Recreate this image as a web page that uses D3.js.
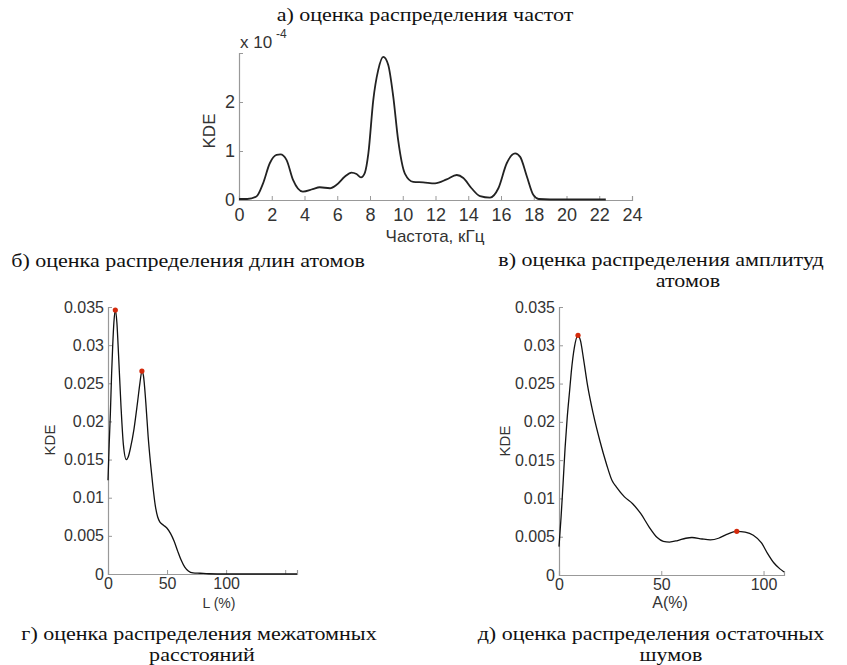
<!DOCTYPE html>
<html>
<head>
<meta charset="utf-8">
<script src="https://cdn.jsdelivr.net/npm/d3@7"></script>
<style>
  body { margin: 0; background: #fff; }
  svg { display: block; }
  .cap { font-family: "Liberation Serif", "Times New Roman", serif; font-size: 20px; fill: #111; }
  .tick text { font-family: "Liberation Sans", Arial, sans-serif; fill: #333; }
  .lbl { font-family: "Liberation Sans", Arial, sans-serif; fill: #333; }
</style>
</head>
<body>
<div class="d3-container"></div>
<script>
// а) частоты, KDE in units of 1e-4
const freqX = [0, 0.5, 1.06, 1.47, 1.88, 2.29, 2.53, 2.9, 3.3, 3.9, 4.5, 4.93, 5.55, 5.96, 6.47, 6.87, 7.18, 7.45, 7.69, 7.9, 8.2, 8.5, 8.81, 9.11, 9.42, 9.72, 10.13, 10.64, 11.25, 11.97, 12.68, 13.3, 13.7, 14.2, 14.72, 15.33, 15.84, 16.35, 16.86, 17.17, 17.58, 17.98, 18.3, 19, 20, 21, 22.4];
const freqKde = [0.02, 0.02, 0.07, 0.34, 0.75, 0.92, 0.93, 0.82, 0.41, 0.17, 0.22, 0.26, 0.24, 0.31, 0.48, 0.56, 0.53, 0.46, 0.56, 0.95, 2.04, 2.65, 2.92, 2.76, 2.11, 1.22, 0.54, 0.37, 0.36, 0.34, 0.42, 0.51, 0.45, 0.24, 0.08, 0.05, 0.24, 0.75, 0.95, 0.88, 0.48, 0.1, 0.02, 0.01, 0.01, 0.01, 0.01];
const freqTicks = [0, 2, 4, 6, 8, 10, 12, 14, 16, 18, 20, 22, 24];

// б) длины атомов
const lenX = [0, 1, 2, 3, 4, 5, 6.2, 7.5, 9, 11, 13, 15.5, 17, 19, 22, 25, 27, 28.7, 30, 32, 34, 36, 38, 40, 42, 44, 47, 50, 53, 56, 59, 62, 65, 68, 72, 78, 85, 100, 160];
const lenKde = [0.0123, 0.017, 0.021, 0.026, 0.030, 0.033, 0.0346, 0.033, 0.0285, 0.022, 0.017, 0.015, 0.0153, 0.0165, 0.019, 0.0225, 0.025, 0.0266, 0.026, 0.0225, 0.018, 0.0145, 0.0115, 0.009, 0.0075, 0.0068, 0.0064, 0.006, 0.0053, 0.0043, 0.003, 0.0018, 0.0009, 0.0004, 0.00015, 0.0001, 0.00003, 0, 0];
const lenPeaks = [[6.2, 0.0346], [28.7, 0.0266]];
const lenTicks = [0, 50, 100, 150];

// в) амплитуды атомов
const ampX = [0, 1, 2, 3, 4, 5.2, 6, 7.5, 9.3, 10.5, 12, 14, 16.7, 20, 23.2, 26, 28, 32, 36, 40, 44, 48, 51, 54, 58, 62, 65, 70, 74, 78, 82, 86.9, 91, 95, 99, 102, 105, 108, 110];
const ampKde = [0.0037, 0.0075, 0.012, 0.0167, 0.0205, 0.0241, 0.0265, 0.0297, 0.0313, 0.0306, 0.0282, 0.0247, 0.0211, 0.0175, 0.0145, 0.0123, 0.0115, 0.0102, 0.0093, 0.008, 0.0063, 0.0049, 0.0044, 0.0043, 0.0045, 0.0048, 0.0049, 0.0047, 0.0046, 0.0048, 0.0053, 0.0057, 0.0056, 0.0052, 0.0042, 0.0028, 0.0016, 0.0008, 0.0004];
const ampPeaks = [[9.3, 0.0313], [86.9, 0.0057]];
const ampTicks = [0, 50, 100];

const kdeTicks = [0, 0.005, 0.01, 0.015, 0.02, 0.025, 0.03, 0.035];

const width = 847;
const height = 665;

const svg = d3.select(".d3-container")
  .append("svg")
  .attr("width", width)
  .attr("height", height);

function panel(o) {
  const x = d3.scaleLinear().domain(o.xDomain).range(o.xRange);
  const y = d3.scaleLinear().domain(o.yDomain).range(o.yRange);
  const g = svg.append("g");

  const xa = g.append("g")
    .attr("transform", `translate(0, ${o.yRange[0]})`)
    .call(d3.axisBottom(x).tickValues(o.xTicks).tickSize(-4).tickPadding(o.xPad)
      .tickFormat(d => o.xHide && o.xHide.includes(d) ? "" : d));
  const ya = g.append("g")
    .attr("transform", `translate(${o.xRange[0]}, 0)`)
    .call(d3.axisLeft(y).tickValues(o.yTicks).tickSize(-4).tickPadding(4)
      .tickFormat(o.yFmt));
  [xa, ya].forEach(a => {
    a.select(".domain").attr("stroke", "#999").attr("stroke-width", 1.2);
    a.selectAll(".tick line").attr("stroke", "#999");
    a.selectAll(".tick text").style("font-size", o.fs + "px");
  });

  const pts = o.xs.map((v, i) => [v, o.ys[i]]);
  g.append("path")
    .datum(pts)
    .attr("fill", "none")
    .attr("stroke", o.lineColor)
    .attr("stroke-width", o.lineW)
    .attr("d", d3.line().x(d => x(d[0])).y(d => y(d[1])).curve(d3.curveMonotoneX));

  if (o.peaks) {
    g.selectAll("circle")
      .data(o.peaks)
      .join("circle")
      .attr("cx", d => x(d[0]))
      .attr("cy", d => y(d[1]))
      .attr("r", 2.6)
      .attr("fill", "#d42a0c");
  }
  return {x, y, g};
}

// top chart
const freqPanel = panel({
  xDomain: [0, 24], xRange: [239, 632],
  yDomain: [0, 3], yRange: [200, 53],
  xTicks: freqTicks, yTicks: [0, 1, 2], yFmt: d => d,
  xPad: 8, fs: 18,
  xs: freqX, ys: freqKde, lineColor: "#222", lineW: 1.8
});
freqPanel.g.append("text").attr("class", "lbl")
  .attr("x", 240).attr("y", 48).style("font-size", "17px")
  .text("x 10");
freqPanel.g.append("text").attr("class", "lbl")
  .attr("x", 276).attr("y", 38).style("font-size", "12px")
  .text("-4");
freqPanel.g.append("text").attr("class", "lbl")
  .attr("transform", "translate(215,131) rotate(-90)")
  .attr("text-anchor", "middle").style("font-size", "17px")
  .text("KDE");
freqPanel.g.append("text").attr("class", "lbl")
  .attr("x", 435).attr("y", 242).attr("text-anchor", "middle").style("font-size", "17px")
  .text("Частота, кГц");

// left chart
const lenPanel = panel({
  xDomain: [0, 160], xRange: [108, 297],
  yDomain: [0, 0.035], yRange: [574, 307],
  xTicks: lenTicks, xHide: [150], yTicks: kdeTicks, yFmt: d => String(+d.toFixed(3)),
  xPad: 4, fs: 16,
  xs: lenX, ys: lenKde, lineColor: "#111", lineW: 1.3, peaks: lenPeaks
});
lenPanel.g.append("text").attr("class", "lbl")
  .attr("transform", "translate(55,440) rotate(-90)")
  .attr("text-anchor", "middle").style("font-size", "15px")
  .text("KDE");
lenPanel.g.append("text").attr("class", "lbl")
  .attr("x", 219).attr("y", 608).attr("text-anchor", "middle").style("font-size", "14px")
  .attr("fill", "#223")
  .text("L (%)");

// right chart
const ampPanel = panel({
  xDomain: [0, 110], xRange: [559, 784],
  yDomain: [0, 0.035], yRange: [575, 307],
  xTicks: ampTicks, yTicks: kdeTicks, yFmt: d => String(+d.toFixed(3)),
  xPad: 4, fs: 16,
  xs: ampX, ys: ampKde, lineColor: "#111", lineW: 1.3, peaks: ampPeaks
});
ampPanel.g.append("text").attr("class", "lbl")
  .attr("transform", "translate(510,441) rotate(-90)")
  .attr("text-anchor", "middle").style("font-size", "15px")
  .text("KDE");
ampPanel.g.append("text").attr("class", "lbl")
  .attr("x", 670).attr("y", 608).attr("text-anchor", "middle").style("font-size", "16px")
  .text("A(%)");

// captions (scanned text is a little wider than it is tall)
const captions = [
  {t: "а) оценка распределения частот", x: 425, y: 21},
  {t: "б) оценка распределения длин атомов", x: 188, y: 267},
  {t: "в) оценка распределения амплитуд", x: 661, y: 266},
  {t: "атомов", x: 688, y: 287},
  {t: "г) оценка распределения межатомных", x: 199, y: 640},
  {t: "расстояний", x: 202, y: 661},
  {t: "д) оценка распределения остаточных", x: 651, y: 640},
  {t: "шумов", x: 671, y: 661},
];
svg.selectAll("text.cap")
  .data(captions)
  .join("text")
  .attr("class", "cap")
  .attr("transform", d => `translate(${d.x},${d.y}) scale(1.13,1)`)
  .attr("text-anchor", "middle")
  .style("font-size", "19.5px")
  .text(d => d.t);
</script>
</body>
</html>
